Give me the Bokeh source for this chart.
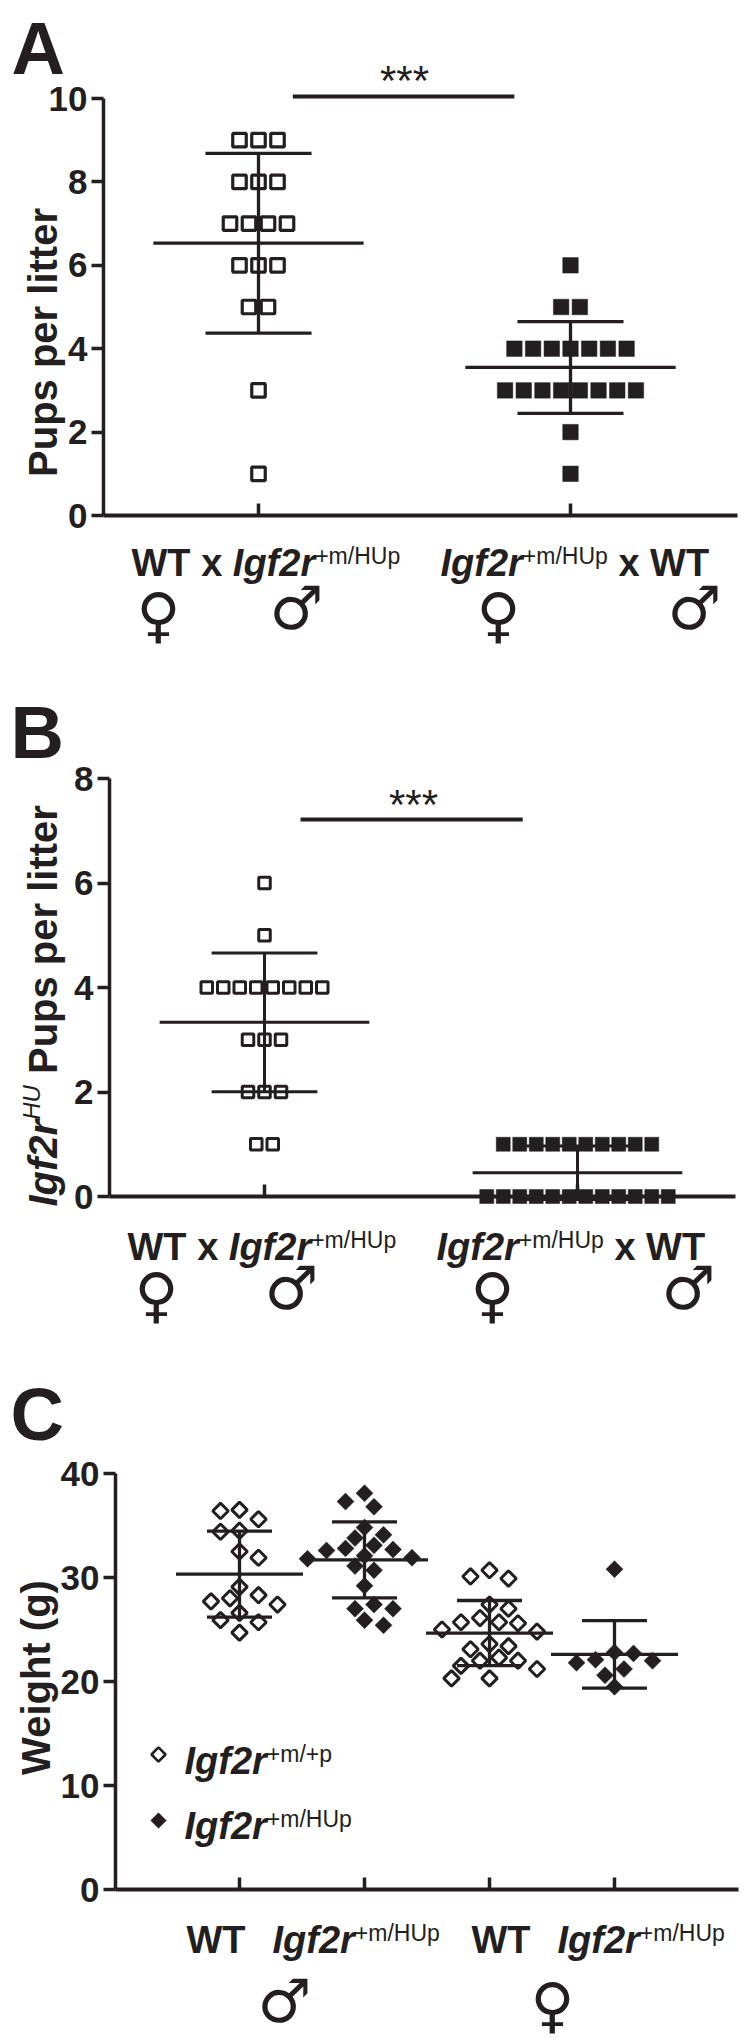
import numpy as np
from math import pi
from bokeh.plotting import figure
from bokeh.layouts import column
from bokeh.models import Label, Range1d, FixedTicker, LinearAxis
from bokeh.embed import file_html
from bokeh.resources import INLINE

INK = "#231f20"
FONT = "Liberation Sans"
SYM_FONT = "DejaVu Sans"
PAGE_W = 749

# ---------------- data ----------------
# Panel A: pups per litter
a_groups = ["WT x Igf2r+m/HUp", "Igf2r+m/HUp x WT"]
a_wt_x_hup = [9, 9, 9, 8, 8, 8, 7, 7, 7, 7, 6, 6, 6, 5, 5, 3, 1]
a_hup_x_wt = [6, 5, 5, 4, 4, 4, 4, 4, 4, 4, 3, 3, 3, 3, 3, 3, 3, 3, 2, 1]
a_ticks = [0, 2, 4, 6, 8, 10]

# Panel B: Igf2r-HU pups per litter
b_wt_x_hup = [6, 5, 4, 4, 4, 4, 4, 4, 4, 4, 3, 3, 3, 2, 2, 2, 1, 1]
b_hup_x_wt = [1, 1, 1, 1, 1, 1, 1, 1, 1, 1, 0, 0, 0, 0, 0, 0, 0, 0, 0, 0, 0, 0]
b_ticks = [0, 2, 4, 6, 8]

# Panel C: weight (g)
c_groups = ["WT male", "Igf2r+m/HUp male", "WT female", "Igf2r+m/HUp female"]
c_male_wt = [36.5, 36.4, 35.6, 34.5, 34.4, 32.5, 31.9, 29.1, 28.3, 28.0, 27.7, 27.4, 26.6, 25.9, 25.7, 24.7]
c_male_hup = [38.1, 37.3, 36.8, 34.8, 34.1, 33.8, 33.1, 32.8, 32.7, 32.6, 32.1, 31.9, 31.8, 31.1, 30.7,
              29.2, 27.4, 27.0, 27.0, 25.9, 25.4]
c_female_wt = [30.7, 30.1, 29.9, 27.4, 27.0, 26.1, 25.7, 25.7, 25.6, 25.0, 24.8, 23.6, 23.4, 23.1, 22.3,
               22.0, 22.0, 21.5, 21.2, 20.3, 20.3]
c_female_hup = [30.8, 22.8, 22.7, 22.1, 22.0, 21.8, 21.2, 20.6, 19.5]
c_ticks = [0, 10, 20, 30, 40]

# ---------------- text metrics (Arial / Liberation Sans, per 1000 em) ----------------
BOLD_W = {'W': 944, 'T': 611, ' ': 278, 'x': 556, 'I': 278, 'g': 611, 'f': 333, '2': 556, 'r': 389,
          'P': 667, 'u': 611, 'p': 611, 's': 556, 'e': 556, 'l': 278, 'i': 278, 't': 333, 'h': 611,
          '(': 333, ')': 333}
REG_W = {'+': 584, 'm': 833, '/': 278, 'H': 722, 'U': 722, 'p': 556, ' ': 278}


def text_width(text, size, style):
    table = BOLD_W if "bold" in style else REG_W
    return sum(table.get(c, 600) for c in text) * size / 1000.0


class Panel:
    """Frame covers the whole figure; axes are drawn at fixed data locations."""

    def __init__(self, fig_top, fig_h, axis_x_px, right_px, zero_px, g1_px, xunit, ypx):
        self.g1_px, self.xunit, self.ypx, self.zero_px = g1_px, xunit, ypx, zero_px
        self.axis_x_px, self.right_px = axis_x_px, right_px
        xs = 1 - g1_px / xunit
        xe = 1 + (PAGE_W - g1_px) / xunit
        ys = -(fig_top + fig_h - zero_px) / ypx
        ye = (zero_px - fig_top) / ypx
        p = figure(width=PAGE_W, height=fig_h, x_range=Range1d(xs, xe), y_range=Range1d(ys, ye),
                   output_backend="svg", toolbar_location=None,
                   x_axis_location=None, y_axis_location=None,
                   min_border_left=0, min_border_right=0, min_border_top=0, min_border_bottom=0)
        p.xgrid.visible = False
        p.ygrid.visible = False
        p.outline_line_color = None
        p.background_fill_color = "white"
        p.border_fill_color = "white"
        self.p = p

    def X(self, px):
        return 1 + (px - self.g1_px) / self.xunit

    def Y(self, py):
        return (self.zero_px - py) / self.ypx

    def axes(self, yticks, xticks):
        ya = LinearAxis(fixed_location=self.X(self.axis_x_px), bounds=(yticks[0], yticks[-1]),
                        ticker=FixedTicker(ticks=yticks))
        ya.axis_line_width = 3.5
        ya.axis_line_color = INK
        ya.major_tick_line_width = 3.5
        ya.major_tick_line_color = INK
        ya.major_tick_out = 12
        ya.major_tick_in = 0
        ya.minor_tick_line_color = None
        ya.major_label_text_font = FONT
        ya.major_label_text_font_style = "bold"
        ya.major_label_text_font_size = "35px"
        ya.major_label_text_color = INK
        ya.major_label_standoff = 4
        self.p.add_layout(ya, "left")
        xa = LinearAxis(fixed_location=0, bounds=(self.X(self.axis_x_px), self.X(self.right_px)),
                        ticker=FixedTicker(ticks=xticks))
        xa.axis_line_width = 4
        xa.axis_line_color = INK
        xa.major_tick_line_width = 3.5
        xa.major_tick_line_color = INK
        xa.major_tick_in = 12
        xa.major_tick_out = 0
        xa.minor_tick_line_color = None
        xa.major_label_text_font_size = "0px"
        xa.major_label_overrides = {t: "" for t in xticks}
        self.p.add_layout(xa, "below")

    def label(self, x_px, y_px, text, size, style="bold", font=FONT, align="left",
              baseline="alphabetic", angle=0, xo=0, yo=0):
        # Bokeh sets alphabetic text ~0.2 em lower than the nominal baseline: compensate
        if baseline == "alphabetic":
            if angle == 0:
                yo += 0.2 * size
            else:
                xo -= 0.2 * size
        self.p.add_layout(Label(x=self.X(x_px), y=self.Y(y_px), text=text, text_font=font,
                                text_font_size=f"{size}px", text_font_style=style, text_color=INK,
                                text_align=align, text_baseline=baseline, angle=angle,
                                x_offset=xo, y_offset=yo))

    def rich(self, x_px, base_px, pieces):
        # pieces: (text, size, style, rise); leading spaces become offsets (SVG trims them)
        off = 0
        for text, size, style, rise in pieces:
            lead = len(text) - len(text.lstrip(" "))
            off += text_width(" " * lead, size, style)
            body = text.strip(" ")
            self.label(x_px, base_px, body, size, style, xo=off, yo=rise)
            off += text_width(text.lstrip(" "), size, style)

    def rich_vertical(self, base_x_px, start_y_px, pieces):
        off = 0
        for text, size, style, rise in pieces:
            lead = len(text) - len(text.lstrip(" "))
            off += text_width(" " * lead, size, style)
            body = text.strip(" ")
            self.label(base_x_px, start_y_px, body, size, style, angle=pi / 2, xo=-rise, yo=off)
            off += text_width(text.lstrip(" "), size, style)

    def errbar(self, g, vals, mean_half, cap_half, lw):
        m = float(np.mean(vals))
        s = float(np.std(vals, ddof=1))
        self.p.segment(x0=[g - mean_half, g - cap_half, g - cap_half, g],
                       y0=[m, m + s, m - s, m - s],
                       x1=[g + mean_half, g + cap_half, g + cap_half, g],
                       y1=[m, m + s, m - s, m + s],
                       line_width=lw, line_color=INK)


def dodge_equal(vals, spacing_px, xunit):
    vals = list(vals)
    offs = [0.0] * len(vals)
    for v in set(vals):
        idx = [i for i, w in enumerate(vals) if w == v]
        n = len(idx)
        for k, i in enumerate(idx):
            offs[i] = (k - (n - 1) / 2.0) * spacing_px / xunit
    return np.array(offs)


def swarm(vals, ypx, xunit, dist=19.5, step=9.5):
    vals = np.asarray(vals, dtype=float)
    order = np.argsort(-vals, kind="stable")
    placed = []
    offs = np.zeros(len(vals))
    for n_placed, i in enumerate(order):
        y = vals[i] * ypx
        cands = [0.0]
        for j in range(1, 20):
            if n_placed % 2 == 0:
                cands += [j * step, -j * step]
            else:
                cands += [-j * step, j * step]
        for c in cands:
            if all(abs(c - px) + abs(y - py) >= dist for px, py in placed):
                break
        placed.append((c, y))
        offs[i] = c / xunit
    return offs


SYM_F, SYM_M = "\u2640", "\u2642"
SYM_SIZE = 60


def symbol(panel, x_px, y_px, s):
    panel.label(x_px, y_px, s, SYM_SIZE, "bold", font=SYM_FONT, align="center", baseline="middle")


# ======================= Panel A =======================
A = Panel(fig_top=0, fig_h=690, axis_x_px=103, right_px=737, zero_px=515, g1_px=258, xunit=312, ypx=41.7)
pa = A.p
A.axes(a_ticks, [1, 2])
xa1 = 1 + dodge_equal(a_wt_x_hup, 19, 312)
xa2 = 2 + dodge_equal(a_hup_x_wt, 18.7, 312)
pa.scatter(xa1, a_wt_x_hup, marker="square", size=13.5, fill_color="white", line_color=INK, line_width=3.2)
pa.scatter(xa2, a_hup_x_wt, marker="square", size=15.5, fill_color=INK, line_color=INK, line_width=0.5)
A.errbar(1, a_wt_x_hup, 0.337, 0.17, 3.3)
A.errbar(2, a_hup_x_wt, 0.337, 0.17, 3.3)
pa.segment(x0=[1.11], y0=[10.05], x1=[1.82], y1=[10.05], line_width=4, line_color=INK)
A.label(404, 88, "***", 42, "normal", align="center")
A.label(11, 63, "A", 74, "bold")
A.label(50, 342, "Pups per litter", 40, "bold", align="center", angle=pi / 2)
A.rich(131, 570, [("WT x ", 38, "bold", 0), ("Igf2r", 38, "bold italic", 0), ("+m/HUp", 23, "normal", 10)])
A.rich(440, 570, [("Igf2r", 38, "bold italic", 0), ("+m/HUp", 23, "normal", 10), (" x WT", 38, "bold", 0)])
symbol(A, 158, 614, SYM_F)
symbol(A, 296, 607, SYM_M)
symbol(A, 498, 614, SYM_F)
symbol(A, 694, 607, SYM_M)

# ======================= Panel B =======================
B = Panel(fig_top=690, fig_h=670, axis_x_px=109, right_px=735, zero_px=1196, g1_px=264, xunit=313, ypx=52.25)
pb = B.p
B.axes(b_ticks, [1, 2])
xb1 = 1 + dodge_equal(b_wt_x_hup, 16.5, 313)
xb2 = 2 + dodge_equal(b_hup_x_wt, 16.5, 313)
pb.scatter(xb1, b_wt_x_hup, marker="square", size=11.5, fill_color="white", line_color=INK, line_width=3)
pb.scatter(xb2, b_hup_x_wt, marker="square", size=14, fill_color=INK, line_color=INK, line_width=0.5)
B.errbar(1, b_wt_x_hup, 0.335, 0.169, 3)
B.errbar(2, b_hup_x_wt, 0.335, 0.169, 3)
pb.segment(x0=[1.115], y0=[7.215], x1=[1.825], y1=[7.215], line_width=4, line_color=INK)
B.label(413, 812, "***", 42, "normal", align="center")
B.label(10, 747, "B", 74, "bold")
B.rich_vertical(50, 1206, [("Igf2r", 40, "bold italic", 0), ("HU", 24, "italic", 14),
                           (" Pups per litter", 40, "bold", 0)])
B.rich(127, 1254, [("WT x ", 38, "bold", 0), ("Igf2r", 38, "bold italic", 0), ("+m/HUp", 23, "normal", 10)])
B.rich(436, 1254, [("Igf2r", 38, "bold italic", 0), ("+m/HUp", 23, "normal", 10), (" x WT", 38, "bold", 0)])
symbol(B, 156, 1294, SYM_F)
symbol(B, 291, 1287, SYM_M)
symbol(B, 492, 1294, SYM_F)
symbol(B, 688, 1287, SYM_M)

# ======================= Panel C =======================
C = Panel(fig_top=1360, fig_h=678, axis_x_px=115, right_px=738, zero_px=1889, g1_px=239, xunit=125, ypx=10.4)
pc = C.p
C.axes(c_ticks, [1, 2, 3, 4])
open_x = np.concatenate([1 + swarm(c_male_wt, 10.4, 125), 3 + swarm(c_female_wt, 10.4, 125)])
open_y = c_male_wt + c_female_wt
fill_x = np.concatenate([2 + swarm(c_male_hup, 10.4, 125), 4 + swarm(c_female_hup, 10.4, 125)])
fill_y = c_male_hup + c_female_hup
pc.scatter(open_x, open_y, marker="square", angle=pi / 4, size=11, fill_color="white",
           line_color=INK, line_width=3)
pc.scatter(fill_x, fill_y, marker="square", angle=pi / 4, size=12, fill_color=INK,
           line_color=INK, line_width=0.5)
for g, vals in zip([1, 2, 3, 4], [c_male_wt, c_male_hup, c_female_wt, c_female_hup]):
    C.errbar(g, vals, 0.508, 0.26, 3.3)
# legend key
pc.scatter([C.X(158)], [C.Y(1754)], marker="square", angle=pi / 4, size=10, fill_color="white",
           line_color=INK, line_width=2.6)
pc.scatter([C.X(158)], [C.Y(1820)], marker="square", angle=pi / 4, size=11, fill_color=INK,
           line_color=INK, line_width=0.5)
C.rich(184, 1768, [("Igf2r", 38, "bold italic", 0), ("+m/+p", 23, "normal", 10)])
C.rich(184, 1833, [("Igf2r", 38, "bold italic", 0), ("+m/HUp", 23, "normal", 10)])
C.label(10, 1429, "C", 74, "bold")
C.label(43, 1677, "Weight (g)", 40, "bold", align="center", angle=pi / 2)
C.rich(186, 1947, [("WT", 38, "bold", 0)])
C.rich(272, 1947, [("Igf2r", 38, "bold italic", 0), ("+m/HUp", 23, "normal", 10)])
C.rich(471, 1947, [("WT", 38, "bold", 0)])
C.rich(557, 1947, [("Igf2r", 38, "bold italic", 0), ("+m/HUp", 23, "normal", 10)])
symbol(C, 284, 2000, SYM_M)
symbol(C, 552, 2004, SYM_F)

layout = column(pa, pb, pc)
open("out.html", "w").write(file_html(layout, INLINE))
